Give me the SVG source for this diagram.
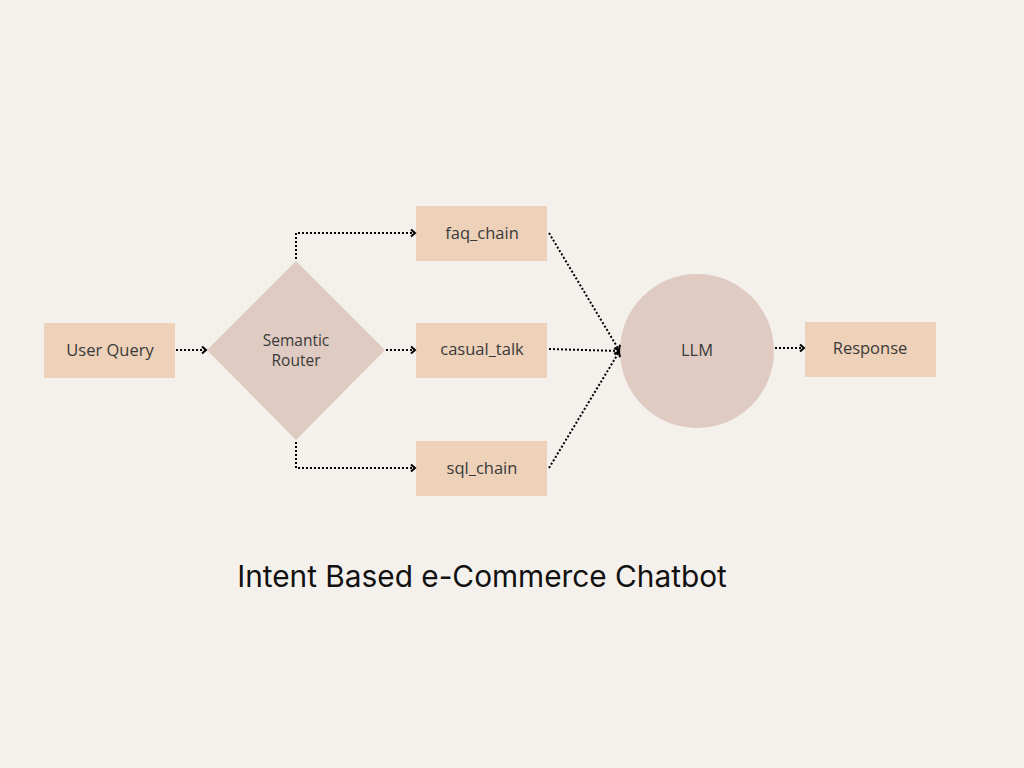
<svg xmlns="http://www.w3.org/2000/svg" width="1024" height="768" viewBox="0 0 1024 768">
<defs>
<marker id="arr" markerWidth="10" markerHeight="10" refX="7" refY="5" orient="auto" markerUnits="userSpaceOnUse">
<path d="M3,1.5 L7,5 L3,8.5" fill="none" stroke="#000" stroke-width="2"/>
</marker>
</defs>
<style>
.box{fill:#edd1b9}
.shape{fill:#dfcbc1}
.lbl{font-family:"Open Sans","Liberation Sans",sans-serif;font-size:16.5px;fill:#3a3a3a;text-anchor:middle;dominant-baseline:central}
.sm{font-size:15.5px}
.edge{fill:none;stroke:#000;stroke-width:2;stroke-dasharray:2 2;marker-end:url(#arr)}
</style>
<rect width="1024" height="768" fill="#f4f0eb"/>
<g id="user_query"><rect class="box" x="44" y="323" width="131" height="55"/><text class="lbl" x="110" y="349">User Query</text></g>
<g id="semantic_router"><polygon class="shape" points="296,261 385,350 296,440 207,350"/><text class="lbl sm" x="296" y="340">Semantic</text><text class="lbl sm" x="296" y="360">Router</text></g>
<g id="faq_chain"><rect class="box" x="416" y="206" width="131" height="55"/><text class="lbl" x="482" y="232">faq_chain</text></g>
<g id="casual_talk"><rect class="box" x="416" y="323" width="131" height="55"/><text class="lbl" x="482" y="348">casual_talk</text></g>
<g id="sql_chain"><rect class="box" x="416" y="441" width="131" height="55"/><text class="lbl" x="482" y="467">sql_chain</text></g>
<g id="llm"><circle class="shape" cx="697" cy="351" r="77"/><text class="lbl" x="697" y="349">LLM</text></g>
<g id="response"><rect class="box" x="805" y="322" width="131" height="55"/><text class="lbl" x="870" y="347">Response</text></g>
<g id="connectors">
<path class="edge" d="M176,350 H206"/>
<path class="edge" d="M296,259 V233 H415"/>
<path class="edge" d="M386,350 H415"/>
<path class="edge" d="M296,442 V468 H415"/>
<path class="edge" d="M549,233 L619,350"/>
<path class="edge" d="M549,349 L619,351"/>
<path class="edge" d="M549,468 L619,352"/>
<path class="edge" d="M775,348 H804"/>
</g>
<text x="482" y="587" font-family="Inter,'Liberation Sans',sans-serif" font-size="29.8" fill="#111" text-anchor="middle">Intent Based e-Commerce Chatbot</text>
</svg>
